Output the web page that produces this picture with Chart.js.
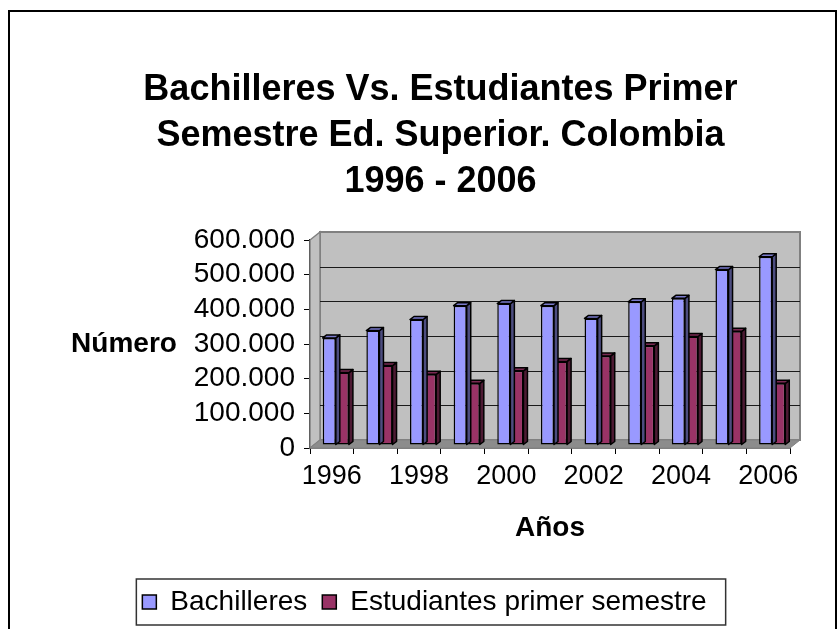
<!DOCTYPE html>
<html>
<head>
<meta charset="utf-8">
<script src="https://cdn.jsdelivr.net/npm/chart.js@4.4.1/dist/chart.umd.min.js"></script>
<style>
    html, body { margin: 0; padding: 0; background: #fff; overflow: hidden; }
    #wrap { position: relative; width: 837px; height: 629px; }
    #frame { position: absolute; left: 8px; top: 10px; width: 825px; height: 700px; border: 2px solid #000; pointer-events: none; }
</style>
</head>
<body>
<div id="wrap">
    <canvas id="chart" width="837" height="629"></canvas>
    <div id="frame"></div>
</div>
<script>
    "use strict";

    var years = ['1996', '1997', '1998', '1999', '2000', '2001', '2002', '2003', '2004', '2005', '2006'];
    var bachilleres = [309000, 330000, 362000, 402000, 408000, 402000, 365000, 413000, 423000, 506000, 543000];
    var estudiantes = [209000, 229000, 204000, 178000, 214000, 241000, 257000, 286000, 313000, 328000, 178000];
    var yTicks = [0, 100000, 200000, 300000, 400000, 500000, 600000];

    var FONT = '"Liberation Sans", Arial, sans-serif';
    var WALL_DX = 10, WALL_DY = -8;     // profundidad de la pared del fondo
    var BAR_DX = 4, BAR_DY = -3;        // desplazamiento y profundidad de cada barra

    var faceColors = [
        { top: '#7a7acc', side: '#4d4d80' },
        { top: '#7a2952', side: '#4d1a33' }
    ];

    function formatNum(v) {
        return String(v).replace(/\B(?=(\d{3})+(?!\d))/g, '.');
    }

    function poly(ctx, pts, fill, stroke, lw) {
        ctx.beginPath();
        ctx.moveTo(pts[0][0], pts[0][1]);
        for (var i = 1; i < pts.length; i++) {
            ctx.lineTo(pts[i][0], pts[i][1]);
        }
        ctx.closePath();
        if (fill) { ctx.fillStyle = fill; ctx.fill(); }
        if (stroke) { ctx.strokeStyle = stroke; ctx.lineWidth = lw || 1; ctx.stroke(); }
    }

    var walls3d = {
        id: 'walls3d',
        afterLayout: function (chart) {
            // centrar la leyenda como en el original
            chart.legend.left -= 16;
            chart.legend.right -= 16;
        },
        beforeDatasetsDraw: function (chart) {
            var ctx = chart.ctx, a = chart.chartArea, ys = chart.scales.y;
            var L = a.left, R = a.right, T = a.top, B = a.bottom;
            ctx.save();
            // pared del fondo
            poly(ctx, [[L + WALL_DX, T + WALL_DY], [R + WALL_DX, T + WALL_DY], [R + WALL_DX, B + WALL_DY], [L + WALL_DX, B + WALL_DY]], '#c0c0c0', '#808080', 2);
            // pared lateral
            poly(ctx, [[L, T], [L + WALL_DX, T + WALL_DY], [L + WALL_DX, B + WALL_DY], [L, B]], '#c0c0c0', '#808080', 1.5);
            // piso
            poly(ctx, [[L, B], [L + WALL_DX, B + WALL_DY], [R + WALL_DX, B + WALL_DY], [R, B]], '#8c8c8c', '#808080', 1);
            // lineas de division en la pared del fondo
            ctx.strokeStyle = '#1a1a1a';
            ctx.lineWidth = 1;
            yTicks.forEach(function (v) {
                if (v === 0 || v === yTicks[yTicks.length - 1]) {
                    return;
                }
                var py = Math.round(ys.getPixelForValue(v) + WALL_DY) + 0.5;
                ctx.beginPath();
                ctx.moveTo(L + WALL_DX, py);
                ctx.lineTo(R + WALL_DX, py);
                ctx.stroke();
            });
            ctx.restore();
        },
        beforeDatasetDraw: function (chart, args) {
            var ctx = chart.ctx;
            var colors = faceColors[args.index];
            ctx.save();
            ctx.translate(BAR_DX, BAR_DY);
            args.meta.data.forEach(function (el) {
                var p = el.getProps(['x', 'y', 'base', 'width'], true);
                var l = p.x - p.width / 2, r = p.x + p.width / 2;
                ctx.lineJoin = 'round';
                poly(ctx, [[r, p.y], [r + BAR_DX, p.y + BAR_DY], [r + BAR_DX, p.base + BAR_DY], [r, p.base]], colors.side, '#000', 1.5);
                poly(ctx, [[l, p.y], [l + BAR_DX, p.y + BAR_DY], [r + BAR_DX, p.y + BAR_DY], [r, p.y]], colors.top, '#000', 1.5);
            });
        },
        afterDatasetDraw: function (chart) {
            chart.ctx.restore();
        },
        afterDraw: function (chart) {
            var ctx = chart.ctx, a = chart.chartArea;
            ctx.save();
            // titulo del eje vertical (horizontal, como en Excel)
            ctx.font = 'bold 28px ' + FONT;
            ctx.fillStyle = '#000';
            ctx.textAlign = 'center';
            ctx.textBaseline = 'middle';
            ctx.fillText('Número', a.left - 186, (a.top + a.bottom) / 2);
            // marco de la leyenda
            var lg = chart.legend, hb = lg.legendHitBoxes;
            if (hb && hb.length) {
                var first = hb[0], last = hb[hb.length - 1];
                var cy = first.top + first.height / 2;
                ctx.strokeStyle = '#333';
                ctx.lineWidth = 1.5;
                ctx.strokeRect(first.left - 6, cy - 23, (last.left + last.width + 19) - (first.left - 6), 46);
            }
            ctx.restore();
        }
    };

    var ctx = document.getElementById('chart').getContext('2d');

    new Chart(ctx, {
        type: 'bar',
        data: {
            labels: years,
            datasets: [{
                label: 'Bachilleres',
                data: bachilleres,
                backgroundColor: '#9999ff',
                borderColor: '#000',
                borderWidth: 1.5,
                borderSkipped: false,
                categoryPercentage: 0.6,
                barPercentage: 1.0,
                clip: false
            }, {
                label: 'Estudiantes primer semestre',
                data: estudiantes,
                backgroundColor: '#993366',
                borderColor: '#000',
                borderWidth: 1.5,
                borderSkipped: false,
                categoryPercentage: 0.6,
                barPercentage: 1.0,
                clip: false
            }]
        },
        options: {
            responsive: false,
            animation: false,
            layout: { padding: { top: 10, left: 91, right: 47, bottom: 3 } },
            plugins: {
                title: {
                    display: true,
                    text: ['Bachilleres Vs. Estudiantes Primer', 'Semestre Ed. Superior. Colombia', '1996 - 2006'],
                    color: '#000',
                    font: { family: FONT, size: 36, weight: 'bold', lineHeight: 46 / 36 },
                    padding: { top: 57, bottom: 35 }
                },
                legend: {
                    position: 'bottom',
                    labels: {
                        color: '#000',
                        font: { family: FONT, size: 28 },
                        boxWidth: 14,
                        boxHeight: 14,
                        padding: 15
                    }
                },
                tooltip: { enabled: false }
            },
            scales: {
                x: {
                    grid: { drawOnChartArea: false, drawTicks: true, tickLength: 6, color: '#000', offset: true },
                    border: { display: true, color: '#000', width: 1.5 },
                    ticks: {
                        color: '#000',
                        font: { family: FONT, size: 27 },
                        padding: 6,
                        autoSkip: false,
                        maxRotation: 0,
                        minRotation: 0,
                        callback: function (value, index) {
                            return index % 2 === 0 ? this.getLabelForValue(value) : '';
                        }
                    },
                    title: {
                        display: true,
                        text: 'Años',
                        color: '#000',
                        font: { family: FONT, size: 28, weight: 'bold' },
                        padding: { top: 0, bottom: 28 }
                    },
                    afterFit: function (scale) { scale.height = 125; }
                },
                y: {
                    min: 0,
                    max: 600000,
                    grid: { drawOnChartArea: false, drawTicks: true, tickLength: 6, color: '#000' },
                    border: { display: true, color: '#000', width: 1.5 },
                    afterBuildTicks: function (scale) {
                        scale.ticks = yTicks.map(function (v) { return { value: v }; });
                    },
                    ticks: {
                        color: '#000',
                        font: { family: FONT, size: 28 },
                        padding: 9,
                        autoSkip: false,
                        callback: function (v) { return formatNum(v); }
                    },
                    afterFit: function (scale) { scale.width = 219; }
                }
            }
        },
        plugins: [walls3d]
    });
</script>
</body>
</html>
